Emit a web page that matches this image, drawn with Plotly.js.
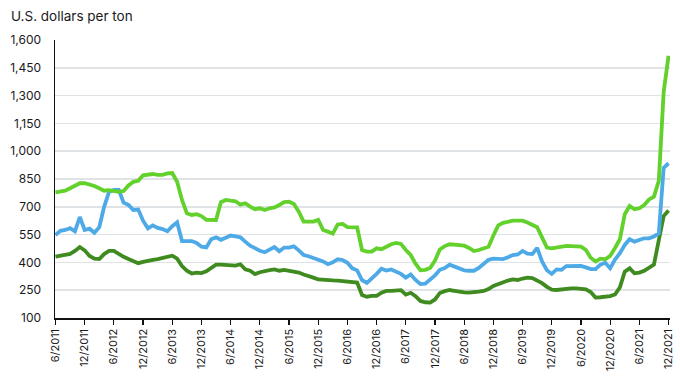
<!DOCTYPE html>
<html>
<head>
<meta charset="utf-8">
<script src="https://cdn.plot.ly/plotly-3.0.1.min.js"></script>
<style>
  html, body { margin: 0; padding: 0; background: #ffffff; }
  #chart { width: 680px; height: 380px; }
</style>
</head>
<body>
<div id="chart"></div>
<script>
// Monthly prices, June 2011 through December 2021 (U.S. dollars per ton)
const tickLabels = ["6/2011","12/2011","6/2012","12/2012","6/2013","12/2013","6/2014","12/2014",
  "6/2015","12/2015","6/2016","12/2016","6/2017","12/2017","6/2018","12/2018",
  "6/2019","12/2019","6/2020","12/2020","6/2021","12/2021"];

const lightGreenSeries = [778,782,787,800,815,827,827,822,812,800,787,790,785,781,785,815,835,840,870,875,
  877,872,872,880,882,835,737,665,656,660,650,630,629,629,725,737,733,730,712,719,
  701,687,692,683,692,697,710,725,728,715,674,620,620,620,629,575,566,555,605,608,
  590,589,589,467,458,458,476,471,485,498,505,500,467,440,393,358,360,370,410,470,
  488,498,496,494,490,478,461,467,476,484,545,600,613,620,625,625,625,615,600,590,
  535,480,476,480,487,489,488,485,485,468,425,405,420,417,435,478,525,660,705,687,
  692,710,740,755,840,1320,1515];

const blueSeries = [548,570,575,585,568,645,575,582,560,590,700,780,791,791,722,710,683,685,625,584,
  600,586,580,568,595,616,515,515,515,505,485,481,525,535,522,533,545,540,535,512,
  490,477,463,455,470,483,460,480,480,487,465,440,433,425,417,405,390,400,417,413,
  398,368,357,305,290,312,338,366,356,362,352,338,318,335,305,283,285,305,330,360,
  370,388,376,369,357,355,355,370,395,414,420,420,418,428,440,443,462,447,445,478,
  405,358,338,362,360,380,381,381,381,373,364,364,388,398,368,415,450,494,525,512,
  521,530,530,540,557,910,935];

const darkGreenSeries = [431,435,440,446,462,483,465,435,420,418,445,462,462,445,430,418,405,396,403,410,
  414,418,425,433,436,420,380,355,340,345,342,352,370,388,388,386,388,383,390,363,
  355,337,347,350,358,362,355,360,356,348,345,335,328,318,308,305,302,303,302,298,
  294,293,291,224,215,219,220,237,246,246,246,250,226,236,218,192,185,183,200,235,
  245,251,247,240,238,237,237,242,246,256,273,284,293,302,308,305,313,318,315,302,
  288,268,253,251,255,260,260,260,260,255,240,210,212,215,218,227,265,350,368,341,
  345,355,372,388,520,650,680];

const months = lightGreenSeries.map((_, i) => i);
const tickVals = tickLabels.map((_, i) => i * 6);
const yTicks = [100,250,400,550,700,850,1000,1150,1300,1450,1600];

const fontFamily = "Inter, 'Noto Sans', 'DejaVu Sans', sans-serif";

function line(y, color) {
  return {
    type: 'scatter', mode: 'lines', x: months, y: y,
    line: { color: color, width: 3.8, shape: 'linear' },
    hoverinfo: 'skip', showlegend: false
  };
}

const data = [
  line(darkGreenSeries, '#3f8b1f'),
  line(blueSeries, '#4eaae6'),
  line(lightGreenSeries, '#62d12c')
];

const layout = {
  width: 680, height: 380,
  margin: { l: 55, r: 10, t: 40, b: 62 },
  paper_bgcolor: '#ffffff', plot_bgcolor: '#ffffff',
  font: { family: fontFamily, color: '#1f1f1f', size: 11 },
  title: {
    text: 'U.S. dollars per ton',
    x: 11 / 680, xanchor: 'left', xref: 'container',
    y: 1 - 16 / 380, yanchor: 'middle', yref: 'container',
    font: { family: fontFamily, size: 13.5, color: '#1a1a1a' }
  },
  xaxis: {
    range: [-0.1, 126.3],
    tickmode: 'array', tickvals: tickVals, ticktext: tickLabels,
    tickangle: -90, ticks: 'outside', ticklen: 5, tickwidth: 1.2, tickcolor: '#111',
    showline: true, linecolor: '#111', linewidth: 1.5,
    showgrid: false, zeroline: false,
    tickfont: { family: fontFamily, size: 11, color: '#1a1a1a' }
  },
  yaxis: {
    range: [100, 1600],
    tickmode: 'array', tickvals: yTicks, tickformat: ',',
    ticks: '', showline: true, linecolor: '#111', linewidth: 1.5,
    showgrid: true, gridcolor: '#dfe3e5', gridwidth: 1.5, zeroline: false,
    tickfont: { family: fontFamily, size: 12, color: '#1a1a1a' },
    ticklabelstandoff: 10
  }
};

Plotly.newPlot('chart', data, layout, { displayModeBar: false, staticPlot: true });
</script>
</body>
</html>
